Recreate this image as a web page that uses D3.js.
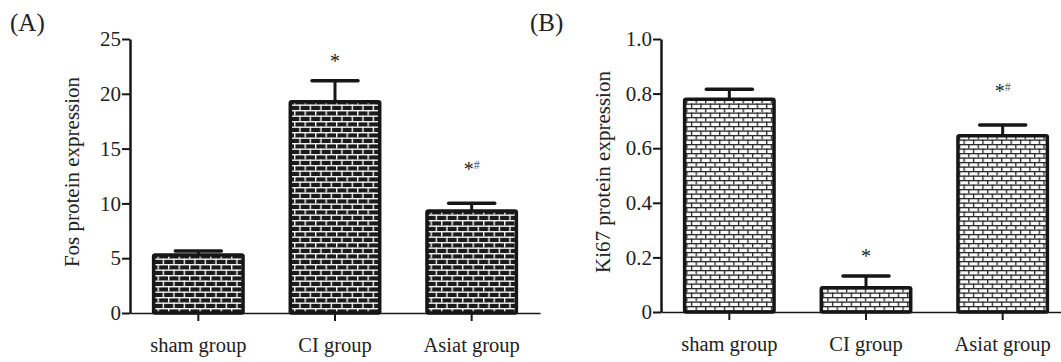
<!DOCTYPE html>
<html>
<head>
<meta charset="utf-8">
<script src="https://cdn.jsdelivr.net/npm/d3@7"></script>
<style>
  body { margin: 0; background: #fff; }
  svg { display: block; }
  text { font-family: "Liberation Serif", "Times New Roman", serif; fill: #222; }
</style>
</head>
<body>
<script>
'use strict';

// data
const groups = ["sham group", "CI group", "Asiat group"];

const fosMean = [5.29, 19.27, 9.31];
const fosErr = [0.37, 1.93, 0.7];
const fosMarks = ["", "*", "*#"];
const fosTicks = [0, 5, 10, 15, 20, 25];

const ki67Mean = [0.779, 0.089, 0.646];
const ki67Err = [0.037, 0.043, 0.039];
const ki67Marks = ["", "*", "*#"];
const ki67Ticks = [0, 0.2, 0.4, 0.6, 0.8, 1.0];

(function() {

  let svg = d3.select('body')
    .append('svg')
    .attr('width', 1061)
    .attr('height', 362);

  let defs = svg.append('defs');

  // dark bricks, white mortar (panel A)
  let pA = defs.append('pattern')
    .attr('id', 'brickDark')
    .attr('patternUnits', 'userSpaceOnUse')
    .attr('width', 10.5)
    .attr('height', 11);
  pA.append('rect').attr('width', 10.5).attr('height', 11).attr('fill', '#1b1b1b');
  pA.append('rect').attr('x', 0).attr('y', 0).attr('width', 10.5).attr('height', 1.4).attr('fill', '#f4f4f4');
  pA.append('rect').attr('x', 0).attr('y', 5.5).attr('width', 10.5).attr('height', 1.4).attr('fill', '#f4f4f4');
  pA.append('rect').attr('x', 0).attr('y', 0).attr('width', 1.4).attr('height', 5.5).attr('fill', '#f4f4f4');
  pA.append('rect').attr('x', 5.25).attr('y', 5.5).attr('width', 1.4).attr('height', 5.5).attr('fill', '#f4f4f4');

  // white bricks, dark mortar (panel B)
  let pB = defs.append('pattern')
    .attr('id', 'brickLight')
    .attr('patternUnits', 'userSpaceOnUse')
    .attr('width', 9.4)
    .attr('height', 9);
  pB.append('rect').attr('width', 9.4).attr('height', 9).attr('fill', '#fafafa');
  pB.append('rect').attr('x', 0).attr('y', 0).attr('width', 9.4).attr('height', 1.3).attr('fill', '#2a2a2a');
  pB.append('rect').attr('x', 0).attr('y', 4.5).attr('width', 9.4).attr('height', 1.3).attr('fill', '#2a2a2a');
  pB.append('rect').attr('x', 0).attr('y', 0).attr('width', 1.3).attr('height', 4.5).attr('fill', '#2a2a2a');
  pB.append('rect').attr('x', 4.7).attr('y', 4.5).attr('width', 1.3).attr('height', 4.5).attr('fill', '#2a2a2a');

  drawPanel({
    label: '(A)', labelX: 10,
    yTitle: 'Fos protein expression', yTitleX: 72,
    means: fosMean, errs: fosErr, marks: fosMarks, ticks: fosTicks,
    domain: [0, 25], xRange: [130, 540], yRange: [313, 39],
    fill: 'url(#brickDark)', fmt: d => d3.format('d')(d)
  });

  drawPanel({
    label: '(B)', labelX: 530,
    yTitle: 'Ki67 protein expression', yTitleX: 603,
    means: ki67Mean, errs: ki67Err, marks: ki67Marks, ticks: ki67Ticks,
    domain: [0, 1], xRange: [661, 1071], yRange: [312, 39],
    fill: 'url(#brickLight)', fmt: d => d === 0 ? '0' : d3.format('.1f')(d)
  });

  // draw one bar panel with its axes, error bars and significance marks
  function drawPanel(o) {
    let g = svg.append('g');

    let x = d3.scaleBand()
      .domain(groups)
      .range(o.xRange)
      .paddingInner(0.32)
      .paddingOuter(0.16);

    let y = d3.scaleLinear()
      .domain(o.domain)
      .range(o.yRange);

    let rows = groups.map((name, i) => ({ name: name, m: o.means[i], e: o.errs[i], mark: o.marks[i] }));

    // bars
    g.selectAll('.bar')
      .data(rows)
      .enter()
      .append('rect')
        .attr('x', d => x(d.name) + 1.75)
        .attr('y', d => y(d.m))
        .attr('width', x.bandwidth() - 3.5)
        .attr('height', d => y(0) - y(d.m))
        .attr('rx', 1.5)
        .attr('fill', o.fill)
        .attr('stroke', '#161616')
        .attr('stroke-width', 3.5);

    // error bars (upper only)
    let cx = d => x(d.name) + x.bandwidth() / 2;
    g.selectAll('.err')
      .data(rows)
      .enter()
      .append('line')
        .attr('x1', cx).attr('x2', cx)
        .attr('y1', d => y(d.m))
        .attr('y2', d => y(d.m + d.e))
        .attr('stroke', '#161616')
        .attr('stroke-width', 3);
    g.selectAll('.cap')
      .data(rows)
      .enter()
      .append('line')
        .attr('x1', d => cx(d) - 23).attr('x2', d => cx(d) + 23)
        .attr('y1', d => y(d.m + d.e))
        .attr('y2', d => y(d.m + d.e))
        .attr('stroke', '#161616')
        .attr('stroke-width', 3.5)
        .attr('stroke-linecap', 'round');

    // significance marks
    let marks = g.selectAll('.mark')
      .data(rows.filter(d => d.mark !== ''))
      .enter()
      .append('text')
        .attr('x', d => cx(d))
        .attr('y', d => y(d.m + d.e) - (d.mark.length > 1 ? 27 : 13))
        .attr('text-anchor', 'middle')
        .style('font-size', '20px');
    marks.append('tspan').text('*');
    marks.filter(d => d.mark.length > 1)
      .append('tspan')
        .attr('dy', -7)
        .style('font-size', '12px')
        .style('fill', '#555')
        .text('#');

    // y axis
    let yAxis = d3.axisLeft(y)
      .tickValues(o.ticks)
      .tickFormat(o.fmt)
      .tickSize(8)
      .tickSizeOuter(0)
      .tickPadding(1);
    let ya = g.append('g')
      .attr('transform', 'translate(' + o.xRange[0] + ',0)')
      .call(yAxis)
      .attr('font-family', '"Liberation Serif", serif');
    ya.select('.domain').attr('stroke', '#161616').attr('stroke-width', 2.5);
    ya.selectAll('.tick line').attr('stroke', '#161616').attr('stroke-width', 2);
    ya.selectAll('.tick text')
      .style('font-family', '"Liberation Serif", serif')
      .style('font-size', '21px')
      .attr('fill', '#222');

    // x axis
    let xAxis = d3.axisBottom(x)
      .tickSize(8)
      .tickSizeOuter(0)
      .tickPadding(16);
    let xa = g.append('g')
      .attr('transform', 'translate(0,' + y(0) + ')')
      .call(xAxis)
      .attr('font-family', '"Liberation Serif", serif');
    xa.select('.domain').attr('stroke', '#161616').attr('stroke-width', 1.5);
    xa.selectAll('.tick line').attr('stroke', '#161616').attr('stroke-width', 2);
    xa.selectAll('.tick text')
      .style('font-family', '"Liberation Serif", serif')
      .style('font-size', '20.5px')
      .attr('fill', '#222');

    // panel label
    g.append('text')
      .attr('x', o.labelX)
      .attr('y', 31)
      .style('font-size', '25px')
      .text(o.label);

    // y title
    g.append('text')
      .attr('transform', 'translate(' + o.yTitleX + ',' + 172 + ')rotate(-90)')
      .attr('text-anchor', 'middle')
      .attr('dy', '0.35em')
      .style('font-size', '21px')
      .text(o.yTitle);
  }
})();
</script>
</body>
</html>
